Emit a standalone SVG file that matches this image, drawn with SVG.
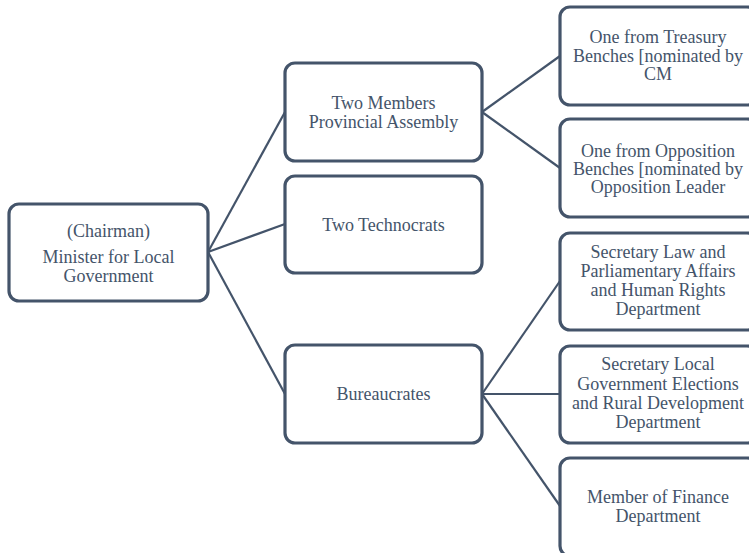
<svg xmlns="http://www.w3.org/2000/svg" width="749" height="553" viewBox="0 0 749 553">
  <style>
    .box { fill: #ffffff; stroke: #44546a; stroke-width: 3.2; }
    .lbl { font-family: "Liberation Serif", "Times New Roman", serif; font-size: 18px; fill: #44546a; text-anchor: middle; }
    .conn line { stroke: #44546a; stroke-width: 2.2; }
  </style>
  <rect width="749" height="553" fill="#ffffff"/>

  <!-- connectors -->
  <g id="connectors" class="conn">
    <line x1="208" y1="252" x2="285" y2="112"/>
    <line x1="208" y1="252" x2="285" y2="224"/>
    <line x1="208" y1="252" x2="285" y2="394"/>
    <line x1="482" y1="112" x2="560" y2="56"/>
    <line x1="482" y1="112" x2="560" y2="168"/>
    <line x1="482" y1="394" x2="560" y2="281"/>
    <line x1="482" y1="394" x2="560" y2="394"/>
    <line x1="482" y1="394" x2="560" y2="506"/>
  </g>

  <!-- root -->
  <g id="chairman">
    <rect class="box" x="9" y="204" width="199" height="97" rx="10"/>
    <text class="lbl" x="108.5" y="237">(Chairman)</text>
    <text class="lbl" x="108.5" y="263">Minister for Local</text>
    <text class="lbl" x="108.5" y="282">Government</text>
  </g>

  <!-- second level -->
  <g id="mpa">
    <rect class="box" x="285" y="63" width="197" height="98" rx="10"/>
    <text class="lbl" x="383.5" y="109">Two Members</text>
    <text class="lbl" x="383.5" y="128">Provincial Assembly</text>
  </g>
  <g id="technocrats">
    <rect class="box" x="285" y="176" width="197" height="97" rx="10"/>
    <text class="lbl" x="383.5" y="231">Two Technocrats</text>
  </g>
  <g id="bureaucrates">
    <rect class="box" x="285" y="345" width="197" height="98" rx="10"/>
    <text class="lbl" x="383.5" y="400">Bureaucrates</text>
  </g>

  <!-- third level -->
  <g id="treasury">
    <rect class="box" x="560" y="7" width="197" height="98" rx="10"/>
    <text class="lbl" x="658" y="43">One from Treasury</text>
    <text class="lbl" x="658" y="62">Benches [nominated by</text>
    <text class="lbl" x="658" y="80">CM</text>
  </g>
  <g id="opposition">
    <rect class="box" x="560" y="119" width="197" height="98" rx="10"/>
    <text class="lbl" x="658" y="157">One from Opposition</text>
    <text class="lbl" x="658" y="175">Benches [nominated by</text>
    <text class="lbl" x="658" y="193">Opposition Leader</text>
  </g>
  <g id="secretary-law">
    <rect class="box" x="560" y="233" width="197" height="97" rx="10"/>
    <text class="lbl" x="658" y="258">Secretary Law and</text>
    <text class="lbl" x="658" y="277">Parliamentary Affairs</text>
    <text class="lbl" x="658" y="296">and Human Rights</text>
    <text class="lbl" x="658" y="315">Department</text>
  </g>
  <g id="secretary-lg">
    <rect class="box" x="560" y="346" width="197" height="97" rx="10"/>
    <text class="lbl" x="658" y="370">Secretary Local</text>
    <text class="lbl" x="658" y="390">Government Elections</text>
    <text class="lbl" x="658" y="409">and Rural Development</text>
    <text class="lbl" x="658" y="428">Department</text>
  </g>
  <g id="finance">
    <rect class="box" x="560" y="458" width="197" height="98" rx="10"/>
    <text class="lbl" x="658" y="503">Member of Finance</text>
    <text class="lbl" x="658" y="522">Department</text>
  </g>
</svg>
